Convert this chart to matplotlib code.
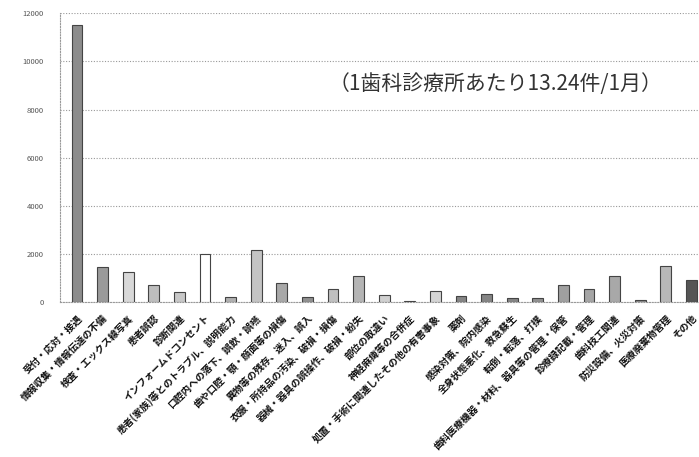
import matplotlib.pyplot as plt

plt.rcParams['font.family'] = ['Noto Sans CJK JP', 'DejaVu Sans']

# categories and counts
categories = [
    '受付・応対・接遇', '情報収集・情報伝達の不備', '検査・エックス線写真', '患者誤認',
    '診断関連', 'インフォームドコンセント', '患者(家族)等とのトラブル、説明能力',
    '口腔内への落下、誤飲・誤嚥', '歯や口腔・顎・顔面等の損傷', '異物等の残存、迷入、誤入',
    '衣服・所持品の汚染、破損・損傷', '器械・器具の誤操作、破損・紛失', '部位の取違い',
    '神経麻痺等の合併症', '処置・手術に関連したその他の有害事象', '薬剤',
    '感染対策、院内感染', '全身状態悪化、救急蘇生', '転倒・転落、打撲',
    '歯科医療機器・材料、器具等の管理・保管', '診療録記載・管理', '歯科技工関連',
    '防災設備、火災対策', '医療廃棄物管理', 'その他',
]
counts = [11500, 1450, 1250, 700, 400, 2000, 200, 2150, 800, 200, 550, 1100, 300,
          50, 450, 250, 350, 150, 150, 700, 550, 1100, 100, 1500, 900]
bar_colors = ['#8c8c8c', '#9a9a9a', '#d8d8d8', '#bdbdbd', '#c8c8c8', '#ffffff', '#b0b0b0',
              '#c4c4c4', '#a8a8a8', '#909090', '#c0c0c0', '#b5b5b5', '#d0d0d0', '#a0a0a0',
              '#d5d5d5', '#858585', '#858585', '#858585', '#909090', '#a0a0a0', '#a5a5a5',
              '#a8a8a8', '#909090', '#b8b8b8', '#555555']
yticks = [0, 2000, 4000, 6000, 8000, 10000, 12000]
note = '（1歯科診療所あたり13.24件/1月）'

fig = plt.figure(figsize=(6.99, 4.57), dpi=100)
ax = fig.add_axes([0.086, 0.339, 0.914, 0.632])

x = list(range(len(categories)))
ax.bar(x, counts, width=0.42, color=bar_colors, edgecolor='#444444', linewidth=0.8, zorder=3)

ax.set_xlim(-0.66, 24.3)
ax.set_ylim(0, 12000)
ax.set_yticks(yticks)
ax.set_yticklabels([str(v) for v in yticks], fontsize=5.5, color='#555555')
ax.yaxis.grid(True, linestyle=(0, (1, 1.5)), color='#999999', linewidth=0.8, zorder=0)
ax.tick_params(axis='y', length=0, pad=12)
ax.tick_params(axis='x', length=0, pad=8)

ax.set_xticks(x)
ax.set_xticklabels(categories, rotation=45, ha='right', rotation_mode='anchor',
                   fontsize=7, fontweight='bold', color='#111111')

for side in ['top', 'right']:
    ax.spines[side].set_visible(False)
for side in ['left', 'bottom']:
    ax.spines[side].set_linestyle((0, (1, 1.5)))
    ax.spines[side].set_color('#999999')

ax.text(0.682, 0.755, note, transform=ax.transAxes, ha='center', va='center',
        fontsize=15, color='#333333')

fig.savefig('out.png', dpi=100)
